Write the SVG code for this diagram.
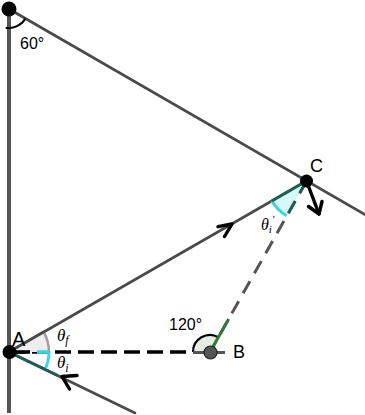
<svg xmlns="http://www.w3.org/2000/svg" width="365" height="415" viewBox="0 0 365 415">
<style>
.ln{stroke:#4a4a4a;stroke-width:2.6;fill:none;stroke-linecap:round}
.arr{stroke:#000;stroke-width:3.4;fill:none;stroke-linecap:round;stroke-linejoin:round}
.teal{stroke:#1d5e58;stroke-width:3;fill:none}
.cyan{stroke:#3fd3dd;stroke-width:3;fill:none}
.lbl{font-family:"Liberation Sans",Arial,sans-serif;fill:#000}
.th{font-family:"Liberation Serif","Times New Roman",serif;font-style:italic;fill:#000}
</style>
<rect width="365" height="415" fill="#fff"/>
<g id="connectors">
  <line x1="9" y1="9" x2="9" y2="413" stroke="#555" stroke-width="4"/>
  <line class="ln" x1="9" y1="9" x2="365" y2="214.5"/>
  <line class="ln" x1="9" y1="352" x2="306.5" y2="181"/>
  <line class="ln" x1="9" y1="352" x2="135" y2="413"/>
  <line x1="9" y1="352" x2="210" y2="352" stroke="#000" stroke-width="3.6" stroke-dasharray="16 7"/>
  <line x1="306.5" y1="181" x2="210" y2="352" stroke="#555" stroke-width="3" stroke-dasharray="14 9"/>
</g>
<g id="angle-top">
  <path d="M5.7,27.7 A19,19 0 0 0 25.45,18.5" fill="none" stroke="#000" stroke-width="2"/>
  <text class="lbl" x="20" y="49" font-size="16">60°</text>
</g>
<g id="angle-A">
  <path d="M9,352 L43.64,332 A40,40 0 0 1 49,352 Z" fill="#eeeeee"/>
  <path d="M43.64,332 A40,40 0 0 1 49,352" fill="none" stroke="#a0a0a0" stroke-width="2.5"/>
  <line class="ln" x1="9" y1="352" x2="43.64" y2="332"/>
  <line x1="9" y1="352" x2="30" y2="352" stroke="#000" stroke-width="3.6"/>
  <line x1="37" y1="352" x2="48" y2="352" stroke="#3fd3dd" stroke-width="3.6"/>
  <path class="cyan" d="M49,352 A40,40 0 0 1 45,369.4"/>
  <line class="teal" x1="9" y1="352" x2="57.6" y2="375.5"/>
  <text class="th" x="57" y="341" font-size="17">θ<tspan font-size="12" dy="3">f</tspan></text>
  <text class="th" x="57" y="368" font-size="17">θ<tspan font-size="12" dy="4">i</tspan></text>
</g>
<g id="angle-C">
  <path d="M306.5,181 L271.9,201 A40,40 0 0 0 286.8,215.8 Z" fill="#d6f8f8"/>
  <path class="cyan" d="M271.9,201 A40,40 0 0 0 286.8,215.8"/>
  <line class="teal" x1="306.5" y1="181" x2="271.9" y2="201"/>
  <line x1="306.5" y1="181" x2="286.8" y2="215.8" stroke="#1d5e58" stroke-width="3" stroke-dasharray="14 9"/>
  <text class="th" x="261" y="230" font-size="16">θ<tspan font-size="11" dy="3">i</tspan><tspan font-size="11" dy="-10">′</tspan></text>
</g>
<g id="angle-B">
  <path d="M193,352 A17,17 0 0 1 218.4,337.2 L210,352 Z" fill="#e4efe1"/>
  <path d="M193,352 A17,17 0 0 1 218.4,337.2" fill="none" stroke="#000" stroke-width="2.2"/>
  <line x1="193" y1="352.5" x2="225" y2="352.5" stroke="#555" stroke-width="3"/>
  <line x1="210" y1="352" x2="228.7" y2="318.9" stroke="#2f7a35" stroke-width="3"/>
  <text class="lbl" x="169" y="330" font-size="16">120°</text>
</g>
<g id="arrows">
  <path class="arr" d="M218,226.7 L232,224 L224.5,236.5"/>
  <path class="arr" d="M77,375.5 L62,376.5 L69.5,389"/>
  <path class="arr" d="M306.5,181 L319,214"/>
  <path class="arr" d="M308.5,206.5 L319,214 L322,201.5"/>
</g>
<g id="node-top"><circle cx="9" cy="9" r="7.5" fill="#000"/></g>
<g id="node-A">
  <circle cx="9.5" cy="352" r="7" fill="#000"/>
  <text class="lbl" x="12" y="346" font-size="20">A</text>
</g>
<g id="node-B">
  <circle cx="210.5" cy="352.5" r="6.5" fill="#555" stroke="#222" stroke-width="1.2"/>
  <text class="lbl" x="233" y="358" font-size="18">B</text>
</g>
<g id="node-C">
  <circle cx="306.5" cy="181" r="6.5" fill="#000"/>
  <text class="lbl" x="310" y="172" font-size="18">C</text>
</g>
</svg>
